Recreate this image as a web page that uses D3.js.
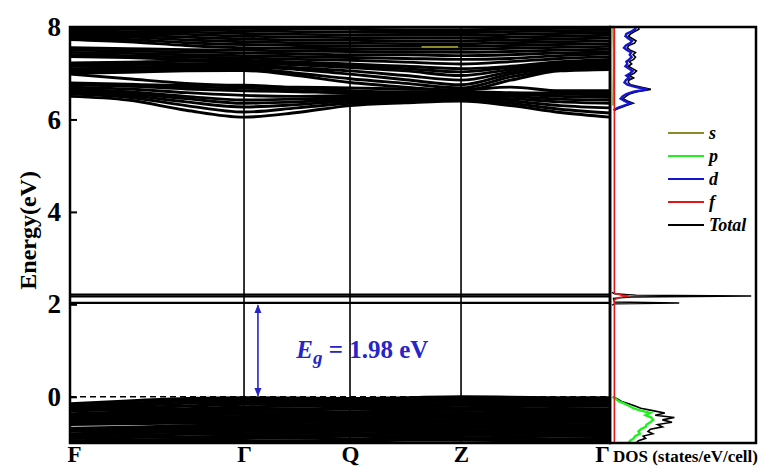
<!DOCTYPE html>
<html>
<head>
<meta charset="utf-8">
<script src="https://cdn.jsdelivr.net/npm/d3@7"></script>
<style>
  body { margin: 0; background: #fff; }
  text { font-family: "Liberation Serif", "Times New Roman", serif; font-weight: bold; }
</style>
</head>
<body>
<div id="chart"></div>
<script>
// high symmetry path
let kLabels = ['F', 'Γ', 'Q', 'Z', 'Γ'];
let kTicks = [0, 1.0, 1.609, 2.247, 3.103];
// k samples used for each band: F, .., Γ, .., Q, .., Z, .., .., Γ
let kGrid = [0, 0.333, 0.667, 1.0, 1.305, 1.609, 1.928, 2.247, 2.532, 2.818, 3.103];
let yTicks = [0, 2, 4, 6, 8];

let valenceBands = [
  [-0.15, -0.09, -0.04, -0.02, -0.03, -0.04, -0.02, 0.00, -0.01, -0.02, -0.02],
  [-0.19, -0.14, -0.09, -0.07, -0.07, -0.10, -0.06, -0.04, -0.05, -0.06, -0.07],
  [-0.23, -0.19, -0.14, -0.11, -0.12, -0.14, -0.11, -0.09, -0.10, -0.11, -0.12],
  [-0.27, -0.24, -0.20, -0.16, -0.15, -0.18, -0.16, -0.14, -0.15, -0.16, -0.16],
  [-0.30, -0.28, -0.26, -0.22, -0.20, -0.22, -0.21, -0.18, -0.20, -0.21, -0.20],
  [-0.37, -0.33, -0.30, -0.27, -0.26, -0.27, -0.25, -0.24, -0.25, -0.27, -0.26],
  [-0.40, -0.38, -0.35, -0.32, -0.31, -0.33, -0.30, -0.29, -0.30, -0.32, -0.31],
  [-0.44, -0.42, -0.40, -0.37, -0.36, -0.37, -0.35, -0.34, -0.36, -0.36, -0.36],
  [-0.48, -0.46, -0.44, -0.43, -0.41, -0.42, -0.40, -0.39, -0.41, -0.42, -0.41],
  [-0.52, -0.50, -0.49, -0.47, -0.46, -0.46, -0.45, -0.44, -0.46, -0.47, -0.46],
  [-0.55, -0.54, -0.53, -0.52, -0.51, -0.51, -0.50, -0.49, -0.50, -0.51, -0.51],
  [-0.60, -0.58, -0.57, -0.56, -0.55, -0.56, -0.55, -0.54, -0.55, -0.55, -0.56],
  [-0.68, -0.66, -0.63, -0.60, -0.60, -0.61, -0.59, -0.59, -0.60, -0.60, -0.61],
  [-0.70, -0.69, -0.67, -0.66, -0.64, -0.65, -0.64, -0.63, -0.65, -0.66, -0.66],
  [-0.74, -0.73, -0.72, -0.70, -0.69, -0.70, -0.69, -0.68, -0.69, -0.70, -0.70],
  [-0.80, -0.78, -0.76, -0.75, -0.74, -0.75, -0.73, -0.73, -0.74, -0.75, -0.75],
  [-0.84, -0.83, -0.81, -0.80, -0.79, -0.80, -0.79, -0.78, -0.79, -0.80, -0.80],
  [-0.90, -0.88, -0.87, -0.85, -0.84, -0.85, -0.84, -0.83, -0.84, -0.85, -0.85],
  [-0.95, -0.94, -0.92, -0.90, -0.89, -0.91, -0.89, -0.88, -0.90, -0.91, -0.90],
  [-0.99, -0.98, -0.97, -0.96, -0.95, -0.96, -0.94, -0.94, -0.95, -0.96, -0.96]
];

// flat defect bands inside the gap
let gapBands = [
  [2.21, 2.21, 2.21, 2.21, 2.21, 2.21, 2.21, 2.21, 2.21, 2.21, 2.21],
  [2.17, 2.17, 2.17, 2.17, 2.17, 2.17, 2.17, 2.17, 2.17, 2.17, 2.17],
  [2.03, 2.03, 2.03, 2.03, 2.03, 2.03, 2.03, 2.03, 2.03, 2.03, 2.03]
];

let conductionBands = [
  [6.50, 6.42, 6.20, 6.05, 6.15, 6.30, 6.36, 6.40, 6.30, 6.15, 6.05],
  [6.55, 6.48, 6.30, 6.16, 6.25, 6.35, 6.40, 6.43, 6.35, 6.22, 6.14],
  [6.58, 6.52, 6.38, 6.27, 6.32, 6.40, 6.44, 6.46, 6.40, 6.30, 6.25],
  [6.62, 6.56, 6.45, 6.35, 6.38, 6.44, 6.47, 6.49, 6.45, 6.38, 6.35],
  [6.66, 6.60, 6.50, 6.42, 6.44, 6.48, 6.50, 6.52, 6.50, 6.44, 6.42],
  [6.70, 6.66, 6.58, 6.52, 6.50, 6.52, 6.55, 6.56, 6.55, 6.50, 6.48],
  [6.75, 6.72, 6.66, 6.62, 6.60, 6.58, 6.60, 6.60, 6.58, 6.55, 6.53],
  [6.76, 6.73, 6.70, 6.68, 6.63, 6.56, 6.53, 6.50, 6.52, 6.55, 6.56],
  [6.79, 6.76, 6.74, 6.74, 6.68, 6.62, 6.58, 6.55, 6.56, 6.58, 6.59],
  [6.98, 6.88, 6.78, 6.72, 6.70, 6.68, 6.66, 6.64, 6.70, 6.62, 6.62],
  [7.00, 7.02, 7.05, 7.06, 6.95, 6.80, 6.70, 6.62, 6.85, 7.05, 7.08],
  [7.05, 7.06, 7.08, 7.10, 7.00, 6.88, 6.78, 6.68, 6.92, 7.08, 7.12],
  [7.10, 7.10, 7.12, 7.14, 7.08, 6.98, 6.86, 6.75, 6.98, 7.12, 7.16],
  [7.15, 7.14, 7.16, 7.18, 7.12, 7.05, 6.95, 6.85, 7.03, 7.15, 7.20],
  [7.20, 7.19, 7.20, 7.22, 7.18, 7.12, 7.05, 6.95, 7.08, 7.18, 7.24],
  [7.22, 7.24, 7.26, 7.26, 7.22, 7.16, 7.10, 7.03, 7.13, 7.22, 7.27],
  [7.36, 7.34, 7.30, 7.28, 7.24, 7.20, 7.15, 7.10, 7.15, 7.25, 7.30],
  [7.40, 7.38, 7.35, 7.33, 7.30, 7.28, 7.24, 7.20, 7.25, 7.32, 7.36],
  [7.45, 7.43, 7.40, 7.38, 7.36, 7.34, 7.32, 7.30, 7.32, 7.38, 7.42],
  [7.50, 7.48, 7.46, 7.44, 7.42, 7.40, 7.40, 7.38, 7.40, 7.44, 7.46],
  [7.55, 7.53, 7.51, 7.50, 7.48, 7.47, 7.46, 7.45, 7.47, 7.50, 7.52],
  [7.73, 7.68, 7.60, 7.55, 7.54, 7.53, 7.52, 7.52, 7.54, 7.56, 7.58],
  [7.76, 7.73, 7.66, 7.62, 7.60, 7.59, 7.58, 7.58, 7.60, 7.62, 7.64],
  [7.80, 7.78, 7.72, 7.68, 7.66, 7.65, 7.64, 7.64, 7.66, 7.68, 7.70],
  [7.84, 7.82, 7.78, 7.74, 7.72, 7.71, 7.70, 7.70, 7.72, 7.74, 7.76],
  [7.88, 7.86, 7.84, 7.80, 7.78, 7.77, 7.76, 7.76, 7.78, 7.80, 7.82],
  [7.92, 7.90, 7.89, 7.86, 7.84, 7.83, 7.82, 7.82, 7.84, 7.86, 7.88],
  [7.96, 7.95, 7.94, 7.92, 7.90, 7.89, 7.88, 7.88, 7.90, 7.92, 7.93],
  [8.00, 7.99, 7.98, 7.97, 7.96, 7.95, 7.94, 7.94, 7.95, 7.97, 7.98]
];

// little olive stroke left in the band panel
let sSegK = [2.02, 2.23];
let sSegE = [7.57, 7.57];

// DOS, conduction part (d and total)
let dosCbE = [6.20, 6.25, 6.30, 6.35, 6.40, 6.45, 6.50, 6.55, 6.60, 6.65, 6.70, 6.75, 6.80,
  6.85, 6.90, 6.95, 7.00, 7.05, 7.10, 7.15, 7.20, 7.25, 7.30, 7.35, 7.40, 7.45, 7.50,
  7.55, 7.60, 7.65, 7.70, 7.75, 7.80, 7.85, 7.90, 7.95, 8.00];
let dosCbD = [0.3, 1.2, 2.5, 3.8, 2.6, 1.8, 2.2, 3.0, 4.5, 7.4, 5.0, 3.2, 2.6,
  2.9, 3.6, 3.0, 3.8, 4.3, 3.5, 2.8, 3.2, 3.0, 3.6, 4.1, 3.7, 4.0, 3.1,
  2.5, 2.9, 3.8, 4.2, 3.4, 2.8, 3.0, 4.0, 4.8, 5.0];
let dosCbTotal = [0.5, 1.6, 3.0, 4.4, 3.2, 2.3, 2.9, 3.6, 5.2, 8.1, 5.9, 3.9, 3.4,
  3.5, 4.5, 3.6, 4.6, 5.1, 4.3, 3.4, 4.1, 3.6, 4.5, 4.9, 4.4, 4.9, 3.8,
  3.2, 3.5, 4.7, 5.0, 4.2, 3.4, 3.9, 4.7, 5.6, 5.5];

// DOS, valence part (p and total)
let dosVbE = [0.00, -0.05, -0.10, -0.15, -0.20, -0.25, -0.30, -0.35, -0.40, -0.45, -0.50,
  -0.55, -0.60, -0.65, -0.70, -0.75, -0.80, -0.85, -0.90, -0.95, -1.00];
let dosVbP = [0.1, 0.8, 1.5, 2.6, 3.6, 4.5, 6.0, 8.0, 7.0, 8.2, 8.6,
  8.0, 7.2, 7.0, 6.0, 5.5, 5.8, 4.8, 4.5, 3.8, 3.5];
let dosVbTotal = [0.2, 1.2, 2.0, 3.5, 4.8, 6.0, 8.5, 11.0, 9.0, 13.0, 10.5,
  12.5, 9.5, 10.5, 8.0, 7.5, 8.5, 6.5, 7.0, 5.5, 5.0];

// DOS of the defect states
let dosGapE = [1.98, 2.01, 2.03, 2.05, 2.13, 2.16, 2.18, 2.20, 2.23, 2.26];
let dosGapTotal = [0, 0.5, 14, 0.5, 0.3, 4, 29, 5, 0.5, 0];

// f and s stay close to zero
let dosFE = [-1.0, 2.10, 2.15, 2.18, 2.20, 2.24, 8.0];
let dosF = [0.5, 0.5, 1.5, 3.5, 2.0, 0.5, 0.5];
let dosSE = [6.3, 7.0, 7.5, 8.0];
let dosS = [0.2, 0.3, 0.3, 0.2];

let legendNames = ['s', 'p', 'd', 'f', 'Total'];
let legendColors = ['#8a8a2a', '#22ee22', '#1515d0', '#e01818', '#000'];

let chart_width = 764;
let chart_height = 468;
let band_left = 70, band_right = 610, dos_right = 756;
let plot_top = 27, plot_bottom = 443;
let blue = '#2525c8';

let svg = d3.select('#chart').append('svg')
  .attr('width', chart_width)
  .attr('height', chart_height);

let x_scale = d3.scaleLinear().domain([0, kTicks[4]]).range([band_left, band_right]);
let y_scale = d3.scaleLinear().domain([-1, 8]).range([plot_bottom, plot_top]);
let dos_scale = d3.scaleLinear().domain([0, 30]).range([band_right + 2, dos_right]);

svg.append('clipPath').attr('id', 'band-clip')
  .append('rect')
  .attr('x', band_left).attr('y', plot_top)
  .attr('width', band_right - band_left).attr('height', plot_bottom - plot_top);
svg.append('clipPath').attr('id', 'dos-clip')
  .append('rect')
  .attr('x', band_right).attr('y', plot_top)
  .attr('width', dos_right - band_right).attr('height', plot_bottom - plot_top);

let band_line = d3.line()
  .x((d, i) => x_scale(kGrid[i]))
  .y(d => y_scale(d))
  .curve(d3.curveMonotoneX);

let bands = svg.append('g').attr('clip-path', 'url(#band-clip)');

// vertical lines at the symmetry points
bands.selectAll('.kline')
  .data(kTicks.slice(1, 4))
  .enter().append('line')
  .attr('x1', d => x_scale(d)).attr('x2', d => x_scale(d))
  .attr('y1', plot_top).attr('y2', plot_bottom)
  .attr('stroke', '#000').attr('stroke-width', 1.6);

// fermi level
bands.append('line')
  .attr('x1', band_left).attr('x2', band_right)
  .attr('y1', y_scale(0)).attr('y2', y_scale(0))
  .attr('stroke', '#000').attr('stroke-width', 1.5)
  .attr('stroke-dasharray', '6,4');

bands.selectAll('.vb')
  .data(valenceBands)
  .enter().append('path')
  .attr('d', band_line)
  .attr('fill', 'none').attr('stroke', '#000').attr('stroke-width', 3.1);

bands.selectAll('.cb')
  .data(conductionBands)
  .enter().append('path')
  .attr('d', band_line)
  .attr('fill', 'none').attr('stroke', '#000').attr('stroke-width', 2.9);

bands.selectAll('.gb')
  .data(gapBands)
  .enter().append('path')
  .attr('d', band_line)
  .attr('fill', 'none').attr('stroke', '#000').attr('stroke-width', 2.2);

bands.append('line')
  .attr('x1', x_scale(sSegK[0])).attr('x2', x_scale(sSegK[1]))
  .attr('y1', y_scale(sSegE[0])).attr('y2', y_scale(sSegE[1]))
  .attr('stroke', legendColors[0]).attr('stroke-width', 2);

// DOS panel
let dos_line = d3.line()
  .x(d => dos_scale(d[1]))
  .y(d => y_scale(d[0]));

let dos = svg.append('g').attr('clip-path', 'url(#dos-clip)');

dos.append('path').datum(d3.zip(dosSE, dosS))
  .attr('d', dos_line).attr('fill', 'none')
  .attr('stroke', legendColors[0]).attr('stroke-width', 1.5);

dos.append('path').datum(d3.zip(dosCbE, dosCbTotal))
  .attr('d', dos_line).attr('fill', 'none')
  .attr('stroke', '#000').attr('stroke-width', 1.6);
dos.append('path').datum(d3.zip(dosVbE, dosVbTotal))
  .attr('d', dos_line).attr('fill', 'none')
  .attr('stroke', '#000').attr('stroke-width', 1.6);
dos.append('path').datum(d3.zip(dosGapE, dosGapTotal))
  .attr('d', dos_line).attr('fill', 'none')
  .attr('stroke', '#000').attr('stroke-width', 1.4);

dos.append('path').datum(d3.zip(dosVbE, dosVbP))
  .attr('d', dos_line).attr('fill', 'none')
  .attr('stroke', legendColors[1]).attr('stroke-width', 2.4);
dos.append('path').datum(d3.zip(dosCbE, dosCbD))
  .attr('d', dos_line).attr('fill', 'none')
  .attr('stroke', legendColors[2]).attr('stroke-width', 2.4);
dos.append('path').datum(d3.zip(dosFE, dosF))
  .attr('d', dos_line).attr('fill', 'none')
  .attr('stroke', legendColors[3]).attr('stroke-width', 1.6);

// frames
svg.append('rect')
  .attr('x', band_left).attr('y', plot_top)
  .attr('width', band_right - band_left).attr('height', plot_bottom - plot_top)
  .attr('fill', 'none').attr('stroke', '#000').attr('stroke-width', 2.5);
svg.append('rect')
  .attr('x', band_right).attr('y', plot_top)
  .attr('width', dos_right - band_right).attr('height', plot_bottom - plot_top)
  .attr('fill', 'none').attr('stroke', '#000').attr('stroke-width', 2.5);

// y axis, ticks pointing inwards
let y_axis = d3.axisLeft(y_scale)
  .tickValues(yTicks)
  .tickSizeInner(-7)
  .tickSizeOuter(0)
  .tickPadding(9);
let y_g = svg.append('g')
  .attr('transform', 'translate(' + band_left + ',0)')
  .call(y_axis);
y_g.select('.domain').remove();
y_g.selectAll('line').attr('stroke-width', 2);
y_g.selectAll('text')
  .attr('font-size', 27)
  .attr('font-family', '"Liberation Serif", serif')
  .attr('font-weight', 'bold')
  .attr('fill', '#000');

// k labels
let x_axis = d3.axisBottom(x_scale)
  .tickValues(kTicks)
  .tickFormat((d, i) => kLabels[i])
  .tickSize(0)
  .tickPadding(3);
let x_g = svg.append('g')
  .attr('transform', 'translate(0,' + plot_bottom + ')')
  .call(x_axis);
x_g.select('.domain').remove();
x_g.selectAll('text')
  .attr('font-size', 23)
  .attr('font-family', '"Liberation Serif", serif')
  .attr('font-weight', 'bold')
  .attr('fill', '#000')
  .attr('dx', (d, i) => (i === 0 ? 4 : i === 4 ? -8 : 0));

svg.append('text')
  .attr('x', band_right + 3).attr('y', 462)
  .attr('font-size', 17)
  .text('DOS (states/eV/cell)');

svg.append('text')
  .attr('transform', 'translate(36,' + (y_scale(3.6)) + ') rotate(-90)')
  .attr('text-anchor', 'middle')
  .attr('font-size', 24)
  .text('Energy(eV)');

// band gap arrow
let gap = 1.98;
let defs = svg.append('defs');
['start', 'end'].forEach(id => {
  defs.append('marker')
    .attr('id', 'arrow-' + id)
    .attr('viewBox', '0 0 10 10')
    .attr('refX', id === 'end' ? 9 : 1).attr('refY', 5)
    .attr('markerWidth', 9).attr('markerHeight', 9)
    .attr('markerUnits', 'userSpaceOnUse')
    .attr('orient', 'auto')
    .append('path')
    .attr('d', id === 'end' ? 'M0,1 L10,5 L0,9 Z' : 'M10,1 L0,5 L10,9 Z')
    .attr('fill', blue);
});
let arrow_x = x_scale(1.08);
svg.append('line')
  .attr('x1', arrow_x).attr('x2', arrow_x)
  .attr('y1', y_scale(gap)).attr('y2', y_scale(0.02))
  .attr('stroke', blue).attr('stroke-width', 1.6)
  .attr('marker-start', 'url(#arrow-start)')
  .attr('marker-end', 'url(#arrow-end)');

let eg = svg.append('text')
  .attr('x', x_scale(1.30)).attr('y', y_scale(0.84))
  .attr('font-size', 25)
  .attr('fill', blue);
eg.append('tspan').attr('font-style', 'italic').text('E');
eg.append('tspan').attr('font-style', 'italic').attr('font-size', 19).attr('dy', 6).text('g');
eg.append('tspan').attr('dy', -6).text(' = ' + gap.toFixed(2) + ' eV');

// legend
let legend = svg.append('g');
legendNames.forEach((name, i) => {
  let ly = 133 + i * 23;
  legend.append('line')
    .attr('x1', 668).attr('x2', 704)
    .attr('y1', ly).attr('y2', ly)
    .attr('stroke', legendColors[i]).attr('stroke-width', 2.2);
  legend.append('text')
    .attr('x', 709).attr('y', ly + 6)
    .attr('font-size', 18)
    .attr('font-style', 'italic')
    .text(name);
});
</script>
</body>
</html>
